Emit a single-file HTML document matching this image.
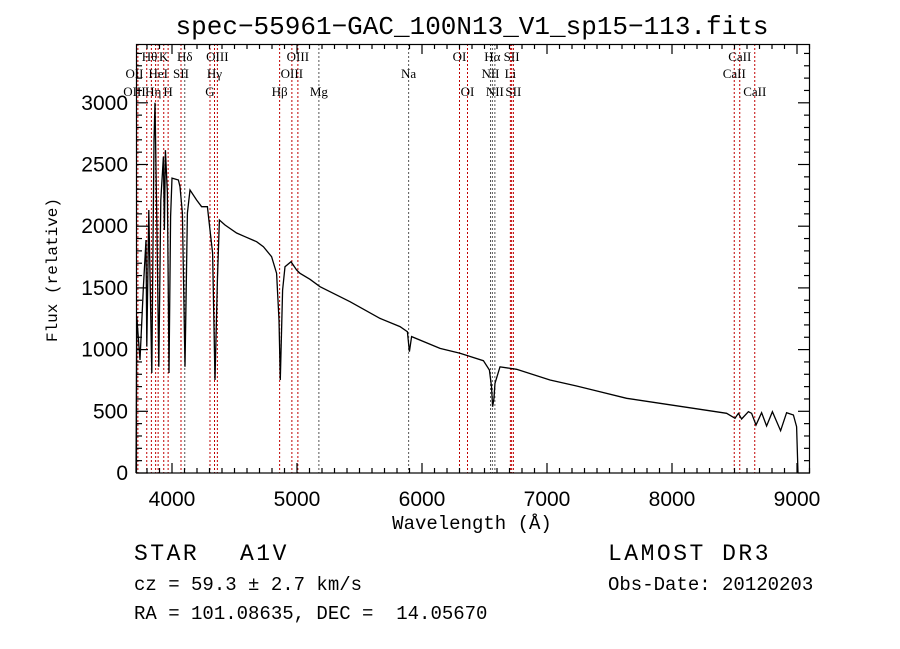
<!DOCTYPE html>
<html><head><meta charset="utf-8"><style>
body{margin:0;background:#fff;width:900px;height:649px;overflow:hidden}
svg{display:block}
</style></head><body>
<svg id="chart" width="900" height="649" xmlns="http://www.w3.org/2000/svg">
<rect width="900" height="649" fill="#fff"/>
<text x="472" y="34" font-family="Liberation Mono, monospace" font-size="26" text-anchor="middle">spec−55961−GAC_100N13_V1_sp15−113.fits</text>
<text transform="translate(57,270) rotate(-90)" font-family="Liberation Mono, monospace" font-size="16" text-anchor="middle">Flux (relative)</text>
<text x="472" y="529" font-family="Liberation Mono, monospace" font-size="19" text-anchor="middle">Wavelength (Å)</text>
<g id="lines"></g>
<g id="ticks"></g>
<path id="spec" fill="none" stroke="#000" stroke-width="1.3"/>
<rect x="136.5" y="44.5" width="673" height="428.5" fill="none" stroke="#000" stroke-width="1.2"/>
<g font-family="Liberation Mono, monospace" font-size="23" letter-spacing="2.5">
<text x="134" y="560">STAR</text>
<text x="240" y="560">A1V</text>
<text x="608" y="560">LAMOST DR3</text>
</g>
<g font-family="Liberation Mono, monospace" font-size="19">
<text x="134" y="590">cz = 59.3 ± 2.7 km/s</text>
<text x="134" y="619" xml:space="preserve">RA = 101.08635, DEC =  14.05670</text>
<text x="608" y="590">Obs-Date: 20120203</text>
</g>
</svg>
<script>
const wavelengths=[3712,3718,3744,3771,3792,3798,3814,3838,3856,3864,3878,3894,3910,3931,3939,3947,3963,3976,3989,4000,4051,4064,4083,4104,4123,4144,4197,4237,4283,4304,4325,4344,4363,4379,4424,4517,4584,4677,4731,4797,4837,4856,4866,4885,4904,4952,4997,5024,5104,5184,5424,5664,5824,5883,5899,5917,6144,6304,6491,6539,6556,6565,6575,6584,6624,6757,7024,7237,7371,7637,7904,8171,8437,8504,8531,8557,8611,8637,8672,8717,8757,8803,8869,8917,8971,8997,9008];
const fluxes=[0,1267,916,1510,1888,1024,2131,810,2698,3000,2050,861,2212,2563,1969,2617,2268,810,2077,2390,2374,2320,2106,861,2106,2293,2212,2158,2158,1969,1783,754,1564,2050,2010,1945,1915,1874,1834,1753,1618,1240,754,1483,1672,1712,1645,1618,1570,1510,1388,1253,1186,1145,983,1105,1010,970,910,835,700,537,600,727,861,840,754,705,672,605,565,524,484,443,484,438,497,484,389,489,381,497,343,489,470,375,0];
const lineWaves=[3727,3798,3835,3869,3889,3934,3969,4072,4102,4304,4340,4363,4861,4959,5007,5175,5893,6300,6364,6548,6563,6583,6707,6717,6731,8498,8542,8662];
const lineColors=["r","r","r","r","r","r","r","r","k","r","r","r","r","r","r","k","k","r","r","k","k","k","r","r","r","r","r","r"];
const labelTexts=["OII","Hθ","OIII","Hη","HeI","K","H","SII","Hδ","G","Hγ","OIII","Hβ","OIII","OIII","Mg","Na","OI","OI","NII","Hα","NII","Li","SII","SII","CaII","CaII","CaII"];
const labelWaves=[3700,3820,3700,3850,3890,3934,3969,4072,4102,4304,4340,4363,4861,4959,5007,5175,5893,6300,6364,6548,6563,6583,6707,6717,6731,8498,8542,8662];
const labelRows=[1,0,2,2,1,0,2,1,0,2,1,0,2,1,0,2,1,0,2,1,0,2,1,0,2,1,0,2];
const xTicks=[4000,5000,6000,7000,8000,9000];
const yTicks=[0,500,1000,1500,2000,2500,3000];
const X=w=>172+(w-4000)*0.125;
const Y=f=>473-f*0.1234;
const NS="http://www.w3.org/2000/svg";
let d="";
wavelengths.forEach((w,i)=>{d+=(i?"L":"M")+X(w).toFixed(1)+" "+Y(fluxes[i]).toFixed(1);});
document.getElementById('spec').setAttribute('d',d);
const lg=document.getElementById('lines');
lineWaves.forEach((w,i)=>{
  const l=document.createElementNS(NS,'line');
  
  
  l.setAttribute('x1',X(w));l.setAttribute('x2',X(w));l.setAttribute('y1',44);l.setAttribute('y2',473);
  l.setAttribute('stroke',lineColors[i]=="r"?"#c00000":"#555");
  l.setAttribute('stroke-width','1');l.setAttribute('stroke-dasharray','2,2');
  lg.appendChild(l);
});
const rowY=[61,78,96];
labelTexts.forEach((t,i)=>{
  const e=document.createElementNS(NS,'text');
  
  
  e.setAttribute('x',X(labelWaves[i]));e.setAttribute('y',rowY[labelRows[i]]);
  e.setAttribute('font-family','Liberation Serif, serif');e.setAttribute('font-size','13');
  e.setAttribute('text-anchor','middle');
  e.textContent=t;lg.appendChild(e);
});
const tg=document.getElementById('ticks');
function ln(x1,y1,x2,y2){const l=document.createElementNS(NS,'line');
  
  
  l.setAttribute('x1',x1);l.setAttribute('y1',y1);l.setAttribute('x2',x2);l.setAttribute('y2',y2);
  l.setAttribute('stroke','#000');l.setAttribute('stroke-width','1.2');tg.appendChild(l);}
for(let w=3800;w<=9100;w+=100){const x=X(w),L=(w%1000==0)?10:5;ln(x,473,x,473-L);ln(x,44,x,44+L);}
for(let f=0;f<=3400;f+=100){const y=Y(f),L=(f%500==0)?12:6;ln(136,y,136+L,y);ln(810,y,810-L,y);}
xTicks.forEach(v=>{const e=document.createElementNS(NS,'text');
  
  
  e.setAttribute('x',X(v));e.setAttribute('y',506);e.setAttribute('text-anchor','middle');
  e.setAttribute('font-family','Liberation Sans, sans-serif');e.setAttribute('font-size','21');
  e.textContent=v;tg.appendChild(e);});
yTicks.forEach(v=>{const e=document.createElementNS(NS,'text');
  
  
  e.setAttribute('x',128);e.setAttribute('y',Y(v)+7);e.setAttribute('text-anchor','end');
  e.setAttribute('font-family','Liberation Sans, sans-serif');e.setAttribute('font-size','21');
  e.textContent=v;tg.appendChild(e);});
</script>
</body></html>
